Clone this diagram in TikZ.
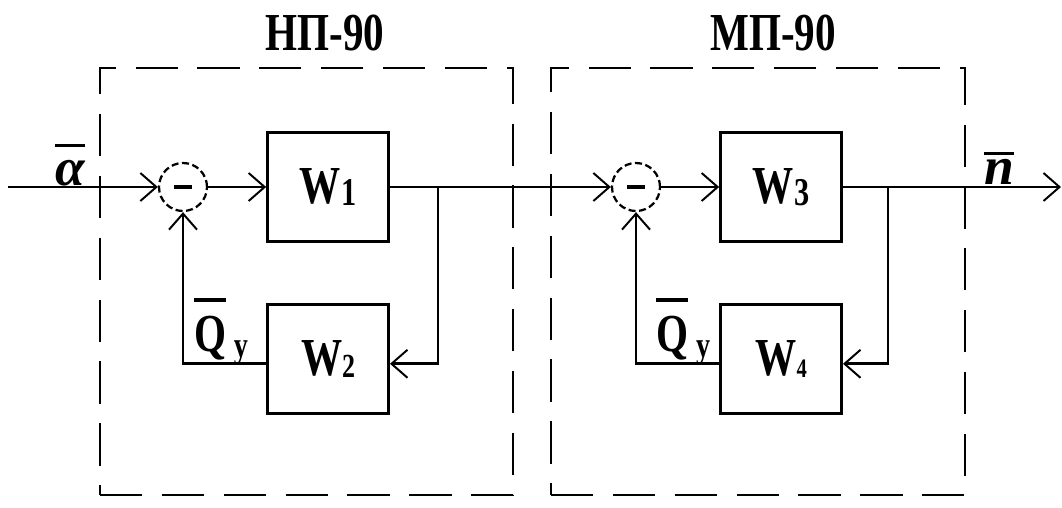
\documentclass[tikz,border=0pt]{standalone}
\usepackage{fontspec}
\setmainfont{Liberation Serif}
\usepackage{tikz}
\usetikzlibrary{positioning, arrows.meta}

\newcommand{\squeeze}[1]{\scalebox{0.77}[1]{#1}}
\newcommand{\wsub}[2]{\raisebox{-1.5pt}{\fontsize{#1}{#1}\selectfont #2}}
\newcommand{\barred}[2]{\leavevmode\vbox{\hrule height 2.2pt\kern #1\hbox{#2}}}

\begin{document}
\begin{tikzpicture}[x=0.025cm, y=-0.025cm, line width=2pt, node distance=1.45cm,
    >={Straight Barb[length=4mm, width=7mm, line width=1.4pt]},
    every node/.style={font=\fontsize{38}{42}\selectfont\bfseries},
    block/.style={draw, minimum width=3.025cm, minimum height=2.725cm, inner sep=0pt},
    summer/.style={draw, circle, line width=1.6pt, dash pattern=on 5pt off 2.5pt, minimum size=1.2cm, inner sep=0pt},
    frame/.style={draw, dash pattern=on 30pt off 14pt, minimum height=10.675cm}]
    \useasboundingbox (0,0) rectangle (1062,507);
    \node (np)  [frame, minimum width=10.325cm] at (306.5,281.5) {};
    \node (mp)  [frame, minimum width=10.35cm] at (758,281.5) {};
    \node (npt) [anchor=base] at (325,50) {\squeeze{НП-90}};
    \node (mpt) [anchor=base] at (773,50) {\squeeze{МП-90}};
    \node (s1) [summer] at (183,187) {\rule{0.45cm}{0.1cm}};
    \node (w1) [block, right=of s1] {\squeeze{W\wsub{28}{1}}};
    \node (w2) [block, below=1.5cm of w1] {\squeeze{W\wsub{24}{2}}};
    \node (s2) [summer] at (636,187) {\rule{0.45cm}{0.1cm}};
    \node (w3) [block, right=of s2] {\squeeze{W\wsub{28}{3}}};
    \node (w4) [block, below=1.5cm of w3] {\squeeze{W\wsub{19}{4}}};
    \coordinate (in)  at (8,187);
    \coordinate (b1)  at (438,187);
    \coordinate (b2)  at (888,187);
    \coordinate (out) at (1061,187);
    \node (alpha) [inner sep=0pt] at (70,165) {\barred{9pt}{\itshape α}};
    \node (nout)  [inner sep=0pt] at (999,168) {\barred{3pt}{\itshape n}};
    \node (q1) [inner sep=0pt, anchor=base west] at (193,351)
      {\squeeze{\barred{10pt}{Q}\hspace{7pt}\raisebox{-4.5pt}{\fontsize{26}{26}\selectfont y}}};
    \node (q2) [inner sep=0pt, anchor=base west] at (655,351)
      {\squeeze{\barred{10pt}{Q}\hspace{7pt}\raisebox{-4.5pt}{\fontsize{26}{26}\selectfont y}}};
    \draw[->] (in) -- (s1);
    \draw[->] (s1) -- (w1);
    \draw[->] (w1) -- (s2);
    \draw[->] (b1) |- ([yshift=-3.5pt]w2.east);
    \draw[->] ([yshift=-3.5pt]w2.west) -| (s1);
    \draw[->] (s2) -- (w3);
    \draw[->] (w3) -- (out);
    \draw[->] (b2) |- ([yshift=-3.5pt]w4.east);
    \draw[->] ([yshift=-3.5pt]w4.west) -| (s2);
  \end{tikzpicture}
\end{document}
